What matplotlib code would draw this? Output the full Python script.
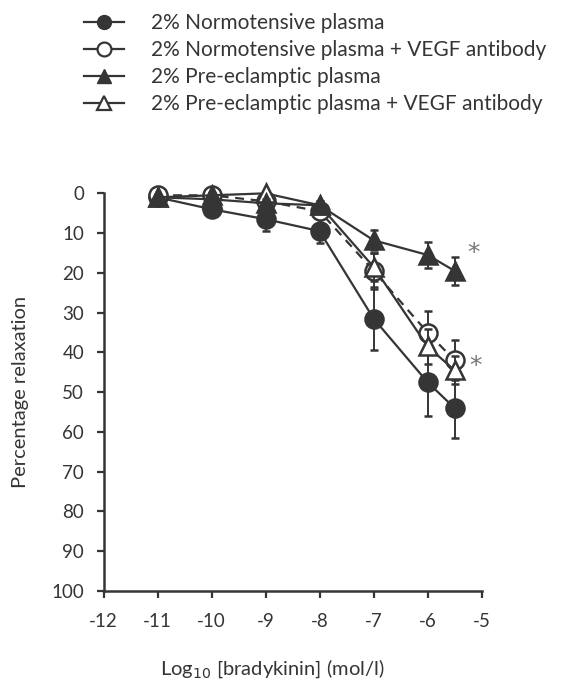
import matplotlib.pyplot as plt
from matplotlib.lines import Line2D

plt.rcParams['font.family'] = ['Lato', 'DejaVu Sans']

# log10 bradykinin concentrations
conc = [-11, -10, -9, -8, -7, -6, -5.5]

# percentage relaxation (mean) and error bars
normo = [1, 4, 6.5, 9.5, 31.5, 47.5, 54]
normo_err = [0.5, 1, 3, 3, 8, 8.5, 7.5]
normo_vegf = [0.5, 0.5, 2, 4.5, 19.5, 35, 42]
normo_vegf_err = [0.5, 0.5, 1, 1.5, 4.5, 5.5, 5]
pe = [1, 1.5, 2.5, 3, 11.8, 15.5, 19.5]
pe_err = [0.5, 0.5, 1, 1, 2.5, 3.3, 3.5]
pe_vegf = [1, 0.5, 0, 3, 18.5, 38.5, 44.5]
pe_vegf_err = [0.5, 0.5, 0.5, 1, 3.5, 4.5, 3.5]

labels = ["2% Normotensive plasma",
          "2% Normotensive plasma + VEGF antibody",
          "2% Pre-eclamptic plasma",
          "2% Pre-eclamptic plasma + VEGF antibody"]

dark = '#353535'
ms = 13

fig = plt.figure(figsize=(5.66, 6.89), dpi=100)
ax = fig.add_axes([0.1829, 0.1422, 0.668, 0.5772])

common = dict(color=dark, lw=1.6, ms=ms, mew=1.8, capsize=3, elinewidth=1.4,
              capthick=1.4, clip_on=False)

ax.errorbar(conc, normo, yerr=normo_err, fmt='o-', mfc=dark, mec=dark, zorder=3, **common)
ax.errorbar(conc, normo_vegf, yerr=normo_vegf_err, fmt='o--', mfc='white', mec=dark, zorder=4,
            dashes=(4, 3), **common)
ax.errorbar(conc, pe_vegf, yerr=pe_vegf_err, fmt='^-', mfc='white', mec=dark, zorder=5, **common)
ax.errorbar(conc, pe, yerr=pe_err, fmt='^-', mfc=dark, mec=dark, zorder=6, **common)

# significance marks
ax.text(conc[-1] + 0.24, pe[-1] - 4.5, "*", color='#777777', fontsize=18,
        ha='left', va='center', family='DejaVu Sans')
ax.text(conc[-1] + 0.28, normo_vegf[-1] + 1.5, "*", color='#777777', fontsize=18,
        ha='left', va='center', family='DejaVu Sans')

ax.set_xlim(-12, -5)
ax.set_ylim(100, 0)
ax.set_xticks(range(-12, -4))
ax.set_xticklabels([str(v) for v in range(-12, -4)])
ax.set_yticks(range(0, 101, 10))
for s in ['top', 'right']:
    ax.spines[s].set_visible(False)
for s in ['left', 'bottom']:
    ax.spines[s].set_linewidth(1.8)
    ax.spines[s].set_color(dark)
ax.tick_params(axis='x', direction='out', length=5, width=1.6, color=dark, pad=11,
               labelsize=13.5, labelcolor=dark)
ax.tick_params(axis='y', direction='out', length=5, width=1.6, color=dark, pad=9,
               labelsize=13.5, labelcolor=dark)

ax.set_ylabel("Percentage relaxation", fontsize=14.5, color=dark)
ax.yaxis.set_label_coords(-0.197, 0.5)
ax.set_xlabel(r"Log$_{10}$ [bradykinin] (mol/l)", fontsize=14.5, color=dark)
ax.xaxis.set_label_coords(0.446, -0.166)

handles = [
    Line2D([], [], color=dark, lw=1.6, marker='o', ms=10, mfc=dark, mec=dark),
    Line2D([], [], color=dark, lw=1.6, marker='o', ms=10, mfc='white', mec=dark, mew=1.6),
    Line2D([], [], color=dark, lw=1.6, marker='^', ms=10, mfc=dark, mec=dark),
    Line2D([], [], color=dark, lw=1.6, marker='^', ms=10, mfc='white', mec=dark, mew=1.6),
]
fig.legend(handles, labels, loc='upper left', bbox_to_anchor=(0.115, 1.008), frameon=False,
           fontsize=15, handlelength=1.95, handletextpad=1.25, labelspacing=0.33,
           labelcolor=dark)

fig.savefig("out.png", dpi=100)
